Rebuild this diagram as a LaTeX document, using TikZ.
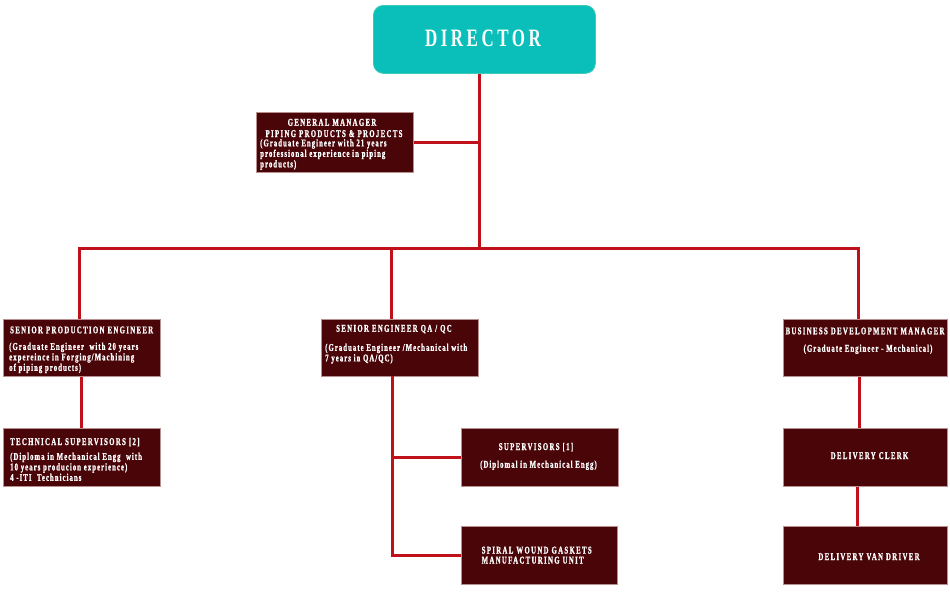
\documentclass[tikz,border=0pt]{standalone}
\usepackage{fontspec}
\setmainfont{Liberation Serif}
\newfontfamily\bxf{Liberation Serif}[FakeStretch=0.66,LetterSpace=10,FakeBold=1.1]
\newfontfamily\ttlf{Liberation Serif}[FakeStretch=0.66,LetterSpace=13,FakeBold=1.1]
\newfontfamily\dirf{Liberation Serif}[FakeStretch=0.68,LetterSpace=14]
\definecolor{boxfill}{HTML}{4A0508}
\definecolor{boxborder}{HTML}{B89090}
\definecolor{linered}{HTML}{C0101A}
\definecolor{teal}{HTML}{0ABFBA}
\definecolor{tealborder}{HTML}{40CCB4}
\tikzset{
  box/.style={draw=boxborder, fill=boxfill, line width=0.8pt, inner sep=0, anchor=north west},
  dirbox/.style={draw=tealborder, fill=teal, line width=0.8pt, inner sep=0, anchor=north west, rounded corners=10pt},
  conn/.style={draw=linered, line width=3pt},
  txt/.style={text=white, inner sep=0, font=\bxf\bfseries\fontsize{10.3}{10.5}\selectfont, align=left},
  ttl/.style={text=white, inner sep=0, font=\ttlf\bfseries\fontsize{10.3}{11.3}\selectfont, align=left},
}
\begin{document}
\begin{tikzpicture}[x=1pt,y=-1pt]
\useasboundingbox (0,0) rectangle (950,592);
% boxes
\node[dirbox, minimum width=222, minimum height=68] (dir) at (373,5) {};
\node[box, minimum width=157, minimum height=60] (gm) at (256,112) {};
\node[box, minimum width=157, minimum height=57] (spe) at (3,319) {};
\node[box, minimum width=157, minimum height=57] (qa) at (321,319) {};
\node[box, minimum width=164, minimum height=57] (bdm) at (783,319) {};
\node[box, minimum width=157, minimum height=58] (ts) at (3,428) {};
\node[box, minimum width=157, minimum height=58] (sup) at (461,428) {};
\node[box, minimum width=156, minimum height=58] (sw) at (461,526) {};
\node[box, minimum width=164, minimum height=58] (clerk) at (783,428) {};
\node[box, minimum width=164, minimum height=58] (van) at (783,526) {};
% connector coordinates
\coordinate (hub) at (479,248);
\coordinate (hl) at (79,248);
\coordinate (hq) at (391,248);
\coordinate (hr) at (858,248);
\coordinate (qx) at (392,376);
% connectors
\draw[conn] (dir.south -| hub) -- (hub);
\draw[conn] (gm.east) -- (gm.east -| hub);
\draw[conn] (hl |- spe.north) -- (hl) -- (hr) -- (hr |- bdm.north);
\draw[conn] (hq) -- (hq |- qa.north);
\draw[conn] (spe.south) -- (ts.north);
\draw[conn] (qx) -- (qx |- sw.west) -- (sw.west);
\draw[conn] (qx |- sup.west) -- (sup.west);
\draw[conn] ([xshift=-6pt]bdm.south) -- ([xshift=-6pt]clerk.north);
\draw[conn] ([xshift=-8pt]clerk.south) -- ([xshift=-8pt]van.north);
% texts
\node[text=white, inner sep=0, font=\dirf\bfseries\fontsize{25}{28}\selectfont, anchor=base] (dirt) at (483,46) {DIRECTOR};
\node[ttl, anchor=base] (gmt1) at (332,125.7) {GENERAL MANAGER};
\node[ttl, anchor=base] (gmt2) at (334,137) {PIPING PRODUCTS \& PROJECTS};
\node[txt, anchor=north west] (gmb) at (260,139) {(Graduate Engineer with 21 years\\professional experience in piping\\products)};
\node[ttl, anchor=base west] (spet) at (10,333.3) {SENIOR PRODUCTION ENGINEER};
\node[txt, anchor=north west] (speb) at (9,342.5) {(Graduate Engineer\ \ with 20 years\\expereince in Forging/Machining\\of piping products)};
\node[ttl, anchor=base west] (qat) at (336,331.7) {SENIOR ENGINEER QA / QC};
\node[txt, anchor=north west] (qab) at (325,343.5) {(Graduate Engineer /Mechanical with\\7 years in QA/QC)};
\node[ttl, anchor=base] (bdmt) at (865,334.3) {BUSINESS DEVELOPMENT MANAGER};
\node[txt, anchor=base] (bdmb) at (868,351.7) {(Graduate Engineer - Mechanical)};
\node[ttl, anchor=base west] (tst) at (10,445) {TECHNICAL SUPERVISORS [2]};
\node[txt, anchor=north west] (tsb) at (10,452.5) {(Diploma in Mechanical Engg\ \ with\\10 years producion experience)\\4 -ITI\ \ Technicians};
\node[ttl, anchor=base] (supt) at (536,450) {SUPERVISORS [1]};
\node[txt, anchor=base] (supb) at (538.5,467.7) {(Diplomal in Mechanical Engg)};
\node[ttl, anchor=north west, font=\ttlf\bfseries\fontsize{10.3}{10}\selectfont] (swt) at (481.5,546.5) {SPIRAL WOUND GASKETS\\MANUFACTURING UNIT};
\node[ttl, anchor=base] (clerkt) at (869.5,459) {DELIVERY CLERK};
\node[ttl, anchor=base] (vant) at (869,560) {DELIVERY VAN DRIVER};
\end{tikzpicture}
\end{document}
